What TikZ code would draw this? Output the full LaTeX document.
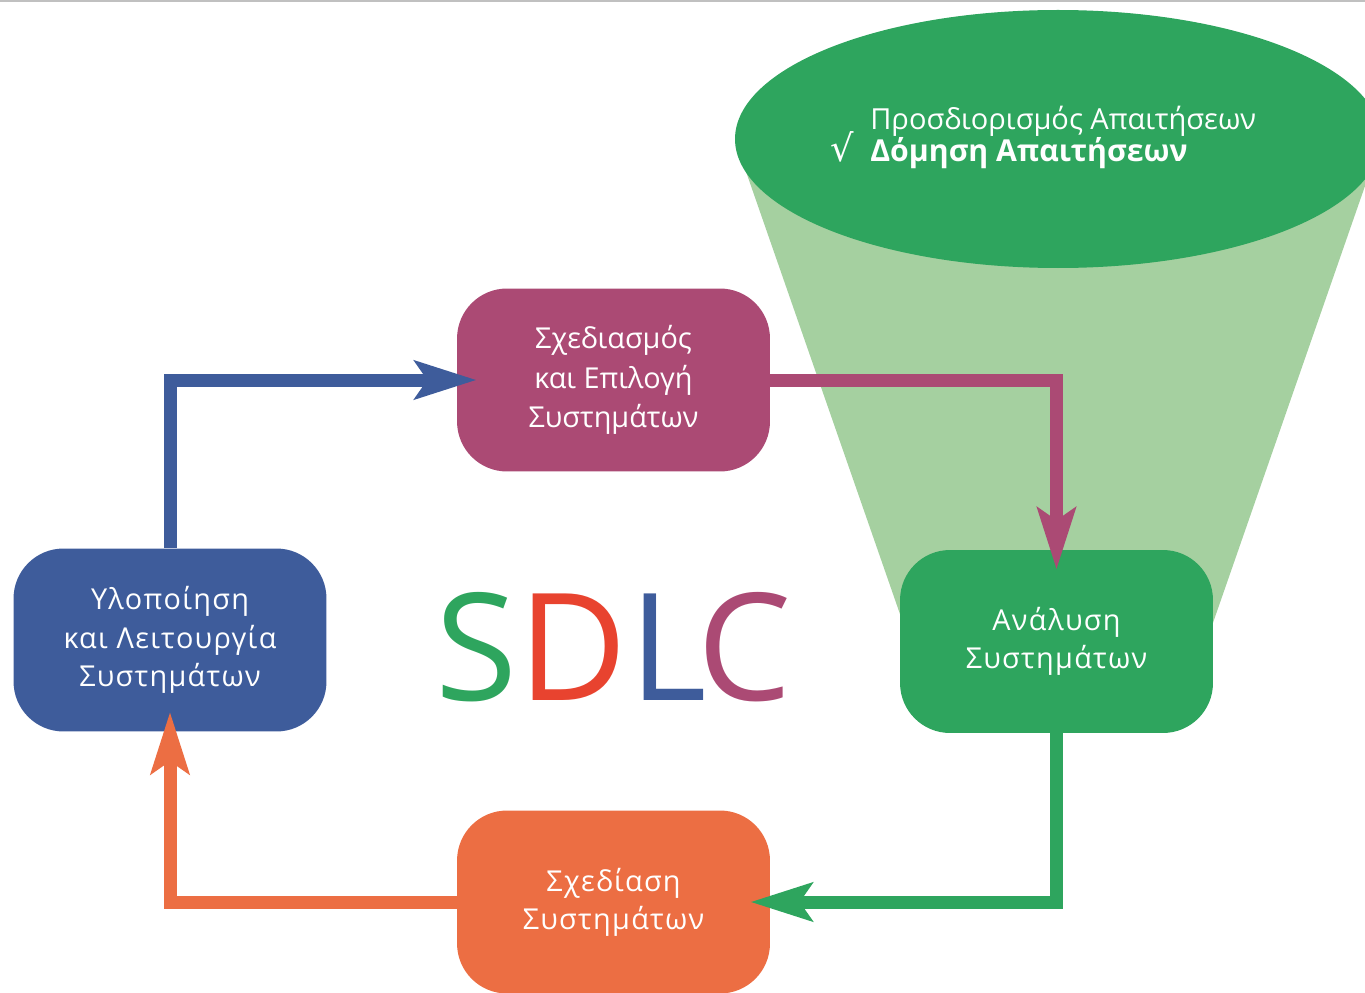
\documentclass[tikz,border=0pt]{standalone}
\usepackage{fontspec}
\setmainfont{Open Sans}
\newfontfamily\symfont{DejaVu Sans}
\newfontfamily\spacedfont[LetterSpace=4.5]{Open Sans}
\usetikzlibrary{arrows.meta}
\definecolor{sdgreen}{HTML}{2EA55E}
\definecolor{sdfunnel}{HTML}{A5D0A0}
\definecolor{sdpurple}{HTML}{AB4A74}
\definecolor{sdblue}{HTML}{3E5C9B}
\definecolor{sdorange}{HTML}{EC6E43}
\definecolor{sdred}{HTML}{E8432F}
\definecolor{rulegray}{HTML}{C0C0C0}

\begin{document}
\begin{tikzpicture}[x=0.02cm,y=-0.02cm,
  phase/.style={rectangle, rounded corners=1cm, minimum width=6.26cm,
    minimum height=3.66cm, inner sep=0pt, text=white, align=center,
    font=\fontsize{16.4pt}{22.3pt}\selectfont},
  spaced/.style={font=\spacedfont\fontsize{16.4pt}{21.8pt}\selectfont},
  flow/.style={line width=7.4pt, line join=miter, line cap=butt,
    -{Stealth[length=35pt,width=21.5pt,inset=7pt]}},
  reqtext/.style={anchor=base west, inner sep=0pt, text=white},
  letter/.style={anchor=base, inner sep=0pt, font=\fontsize{85pt}{90pt}\selectfont}]
\useasboundingbox (0,0) rectangle (1365,993);
\clip (0,0) rectangle (1365,993);

% thin rule along the top edge
\fill[rulegray] (0,0) rectangle (1365,2);

% requirements funnel with its elliptical mouth
\fill[sdfunnel] (735,140) -- (1381,140) -- (1207,640) -- (909,640) -- cycle;
\fill[sdgreen] (1058,139) ellipse [x radius=323, y radius=129];

\node[reqtext, font=\fontsize{16.5pt}{20pt}\selectfont] (req1) at (870,130) {Προσδιορισμός Απαιτήσεων};
\node[reqtext, font=\bfseries\fontsize{17.2pt}{20pt}\selectfont] (req2) at (870,162) {Δόμηση Απαιτήσεων};
\node[anchor=base, inner sep=0pt, text=white, font=\symfont\fontsize{21pt}{24pt}\selectfont] (tick) at (842,162) {√};

% the four phases
\node[phase, fill=sdpurple] (design) at (613.5,380) {Σχεδιασμός\\και Επιλογή\\Συστημάτων};
\node[phase, spaced, fill=sdgreen] (analysis) at (1056.5,641.5) {Ανάλυση\\Συστημάτων};
\node[phase, spaced, fill=sdorange] (sysdesign) at (613.5,902) {Σχεδίαση\\Συστημάτων};
\node[phase, spaced, fill=sdblue] (build) at (170,640) {Υλοποίηση\\και Λειτουργία\\Συστημάτων};

% centre title
\node[letter, text=sdgreen] (ls) at (476,700) {S};
\node[letter, text=sdred] (ld) at (573,700) {D};
\node[letter, text=sdblue] (ll) at (668,700) {L};
\node[letter, text=sdpurple] (lc) at (745,700) {C};

% cycle connectors
\draw[flow, sdblue] (build.north) |- ([xshift=0.4cm]design.west);
\draw[flow, sdpurple] (design.east) -| ([yshift=-0.4cm]analysis.north);
\draw[flow, sdgreen] (analysis.south) |- ([xshift=-0.4cm]sysdesign.east);
\draw[flow, sdorange] (sysdesign.west) -| ([yshift=0.4cm]build.south);
\end{tikzpicture}
\end{document}
